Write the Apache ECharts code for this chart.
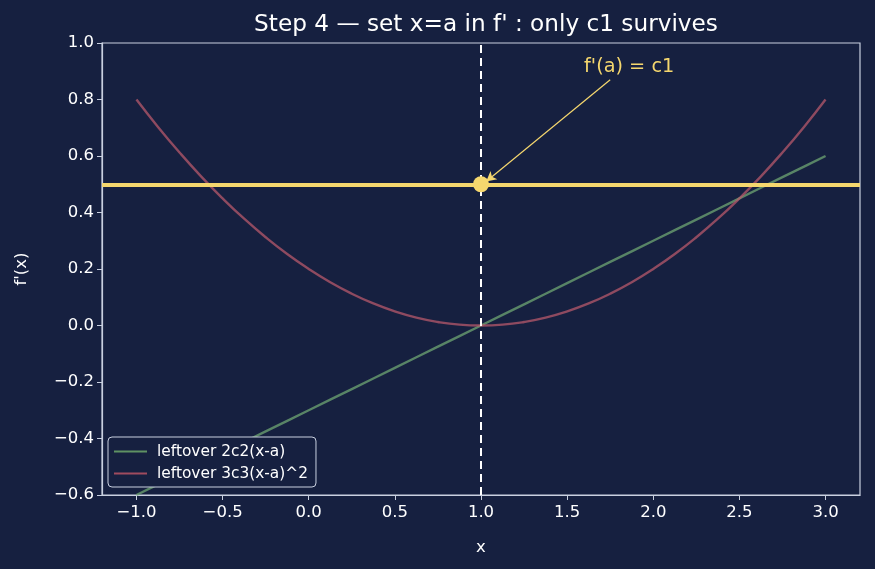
<!DOCTYPE html>
<html>
<head>
<meta charset="utf-8">
<script src="https://cdn.jsdelivr.net/npm/echarts@6/dist/echarts.min.js"></script>
<style>
html, body { margin: 0; padding: 0; background: #162040; }
#graph { width: 875px; height: 569px; }
</style>
</head>
<body>
<div id="graph"></div>
<script>
// values
var xs = [-1.0, -0.875, -0.75, -0.625, -0.5, -0.375, -0.25, -0.125, 0.0, 0.125, 0.25, 0.375, 0.5, 0.625, 0.75, 0.875, 1.0,
          1.125, 1.25, 1.375, 1.5, 1.625, 1.75, 1.875, 2.0, 2.125, 2.25, 2.375, 2.5, 2.625, 2.75, 2.875, 3.0];
var linearVals = [-0.6, -0.5625, -0.525, -0.4875, -0.45, -0.4125, -0.375, -0.3375, -0.3, -0.2625, -0.225, -0.1875, -0.15, -0.1125, -0.075, -0.0375, 0.0,
                  0.0375, 0.075, 0.1125, 0.15, 0.1875, 0.225, 0.2625, 0.3, 0.3375, 0.375, 0.4125, 0.45, 0.4875, 0.525, 0.5625, 0.6];
var quadVals = [0.8, 0.703, 0.6125, 0.528, 0.45, 0.378, 0.3125, 0.253, 0.2, 0.153, 0.1125, 0.078, 0.05, 0.028, 0.0125, 0.003, 0.0,
                0.003, 0.0125, 0.028, 0.05, 0.078, 0.1125, 0.153, 0.2, 0.253, 0.3125, 0.378, 0.45, 0.528, 0.6125, 0.703, 0.8];
var c1 = 0.5;
var aPoint = [1.0, 0.5];
var xTicks = [-1.0, -0.5, 0.0, 0.5, 1.0, 1.5, 2.0, 2.5, 3.0];
var seriesNames = ['leftover 2c2(x-a)', 'leftover 3c3(x-a)^2'];
var labelPos = [1.86, 0.915];
var arrowFrom = [1.75, 0.87];
var arrowTo = [1.03, 0.51];

var fg = '#ffffff';
var spine = '#c9d0e0';
var yellow = '#f5d76e';
var font = 'DejaVu Sans';

function pair(a, b) {
    var out = [];
    for (var i = 0; i < a.length; i++) out.push([a[i], b[i]]);
    return out;
}
function fmt(v) {
    return (v < -1e-9 ? '\u2212' : '') + Math.abs(v).toFixed(1);
}

var myChart = echarts.init(document.getElementById('graph'));

var option = {
    backgroundColor: '#162040',
    animation: false,
    textStyle: { fontFamily: font },
    title: {
        text: "Step 4 \u2014 set x=a in f' : only c1 survives",
        left: 481, top: 8, textAlign: 'center',
        textStyle: { color: fg, fontSize: 23.2, fontWeight: 'normal', fontFamily: font }
    },
    legend: {
        data: seriesNames,
        orient: 'vertical',
        left: 108, top: 437,
        itemWidth: 33, itemHeight: 2, itemGap: 7,
        padding: [7, 8, 6, 6],
        backgroundColor: '#162040',
        borderColor: spine, borderWidth: 1, borderRadius: 4,
        icon: 'rect',
        textStyle: { color: fg, fontSize: 15.4, fontFamily: font, padding: [0, 0, 0, 5] }
    },
    grid: {
        left: 102, right: 15, top: 43, bottom: 74,
        show: true, borderColor: spine, borderWidth: 1.2, backgroundColor: 'transparent'
    },
    xAxis: {
        type: 'value', min: -1.2, max: 3.2,
        name: 'x', nameLocation: 'middle', nameGap: 44,
        nameTextStyle: { color: fg, fontSize: 16.5, fontFamily: font },
        axisLine: { show: true, onZero: false, lineStyle: { color: spine, width: 1.2 } },
        axisTick: { show: true, customValues: xTicks, length: 5, lineStyle: { color: spine } },
        axisLabel: { customValues: xTicks, color: fg, fontSize: 16.5, margin: 9, formatter: fmt },
        splitLine: { show: false }
    },
    yAxis: {
        type: 'value', min: -0.6, max: 1.0, interval: 0.2,
        name: "f'(x)", nameLocation: 'middle', nameGap: 72, nameRotate: 90,
        nameTextStyle: { color: fg, fontSize: 16.5, fontFamily: font },
        axisLine: { show: true, onZero: false, lineStyle: { color: spine, width: 1.2 } },
        axisTick: { show: true, length: 5, lineStyle: { color: spine } },
        axisLabel: { color: fg, fontSize: 16.5, margin: 8, formatter: fmt },
        splitLine: { show: false }
    },
    series: [
        {
            name: 'c1',
            type: 'line',
            data: [],
            z: 1,
            markLine: {
                silent: true, symbol: 'none',
                label: { show: false },
                data: [
                    { yAxis: c1, lineStyle: { color: yellow, width: 4, type: 'solid' } },
                    { xAxis: aPoint[0], lineStyle: { color: '#ffffff', width: 2, type: [8, 5] } }
                ]
            }
        },
        {
            name: seriesNames[0],
            type: 'line',
            data: pair(xs, linearVals),
            showSymbol: false,
            z: 2,
            color: '#5f9163',
            lineStyle: { color: '#72ab74', width: 2.4, opacity: 0.72 }
        },
        {
            name: seriesNames[1],
            type: 'line',
            data: pair(xs, quadVals),
            smooth: true,
            showSymbol: false,
            z: 2,
            color: '#a04b5e',
            lineStyle: { color: '#bc5a6c', width: 2.4, opacity: 0.72 }
        },
        {
            name: 'point',
            type: 'scatter',
            data: [aPoint],
            symbolSize: 16,
            z: 6,
            itemStyle: { color: yellow, opacity: 1 }
        },
        {
            name: 'arrow',
            type: 'line',
            data: [],
            z: 5,
            markLine: {
                silent: true,
                symbol: ['none', 'arrow'],
                symbolSize: [8, 10],
                label: { show: false },
                lineStyle: { color: yellow, width: 1.2, type: 'solid' },
                data: [[{ coord: arrowFrom }, { coord: arrowTo }]]
            },
            markPoint: {
                symbol: 'circle', symbolSize: 1,
                itemStyle: { color: 'transparent' },
                label: {
                    show: true, position: 'inside',
                    formatter: "f'(a) = c1",
                    color: yellow, fontSize: 19.3, fontFamily: font
                },
                data: [{ coord: labelPos }]
            }
        }
    ]
};

myChart.setOption(option);
</script>
</body>
</html>
